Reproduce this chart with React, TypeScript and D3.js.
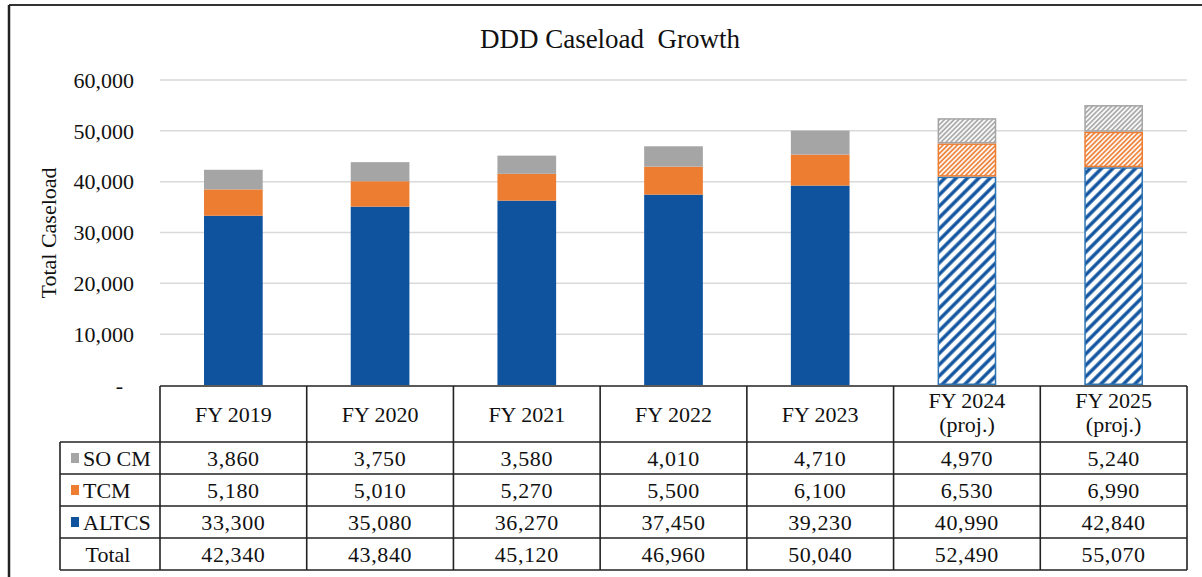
import React from "react";
import * as d3 from "d3";

const categories = ["FY 2019", "FY 2020", "FY 2021", "FY 2022", "FY 2023", "FY 2024", "FY 2025"];
const projected = [false, false, false, false, false, true, true];
const altcs = [33300, 35080, 36270, 37450, 39230, 40990, 42840];
const tcm = [5180, 5010, 5270, 5500, 6100, 6530, 6990];
const socm = [3860, 3750, 3580, 4010, 4710, 4970, 5240];
const totals = [42340, 43840, 45120, 46960, 50040, 52490, 55070];
const yTicks = [0, 10000, 20000, 30000, 40000, 50000, 60000];

const W = 1202, H = 577;
const FONT = "Liberation Serif, Tinos, DejaVu Serif, serif";
const C_BLUE = "#0F539F";
const C_BLUE_EDGE = "#2E75B6";
const C_ORANGE = "#ED7D31";
const C_GREY = "#A5A5A5";
const FS = 22;

export default function App() {
  const x = d3.scaleBand<string>().domain(categories).range([160, 1187]).paddingInner(0).paddingOuter(0);
  const y = d3.scaleLinear().domain([0, 60000]).range([385, 80]);
  const fmt = d3.format(",");
  const bw = x.bandwidth() * 0.4;

  const series = [
    { key: "ALTCS", values: altcs, color: C_BLUE, pat: "pAltcs", edge: C_BLUE_EDGE },
    { key: "TCM", values: tcm, color: C_ORANGE, pat: "pTcm", edge: C_ORANGE },
    { key: "SO CM", values: socm, color: C_GREY, pat: "pSocm", edge: C_GREY },
  ];
  const stack = d3.stack<number>().keys(["0", "1", "2"]).value((i, k) => series[+k].values[i]);
  const stacked = stack(d3.range(categories.length));

  const tableRows = [
    { label: "SO CM", values: socm, color: C_GREY },
    { label: "TCM", values: tcm, color: C_ORANGE },
    { label: "ALTCS", values: altcs, color: C_BLUE },
    { label: "Total", values: totals, color: null },
  ];
  const headerTop = 386, headerBottom = 442, rowH = 32;
  const tableLeft = 60, tableRight = 1187;
  const ts: React.CSSProperties = { fontFamily: FONT };

  return (
    <svg width={W} height={H} style={{ position: "absolute", left: 0, top: 0, background: "#fff", fontFamily: FONT }}>
      <defs>
        <pattern id="pAltcs" width="8" height="8" patternUnits="userSpaceOnUse" patternTransform="rotate(45)">
          <rect width="8" height="8" fill="#fff" />
          <line x1="2" y1="0" x2="2" y2="8" stroke={C_BLUE} strokeWidth="3.4" />
        </pattern>
        <pattern id="pTcm" width="3.4" height="3.4" patternUnits="userSpaceOnUse" patternTransform="rotate(45)">
          <rect width="3.4" height="3.4" fill="#fff" />
          <line x1="1" y1="0" x2="1" y2="3.4" stroke={C_ORANGE} strokeWidth="1.7" />
        </pattern>
        <pattern id="pSocm" width="3.4" height="3.4" patternUnits="userSpaceOnUse" patternTransform="rotate(45)">
          <rect width="3.4" height="3.4" fill="#fff" />
          <line x1="1" y1="0" x2="1" y2="3.4" stroke={C_GREY} strokeWidth="1.7" />
        </pattern>
      </defs>
      <rect width={W} height={H} fill="#fff" />
      <line x1={9} y1={5} x2={W} y2={5} stroke="#333" strokeWidth={2.2} />
      <line x1={9} y1={5} x2={9} y2={H} stroke="#222" strokeWidth={2.5} />

      <text x={610} y={48} textAnchor="middle" fontSize={27} fill="#111" style={{ ...ts, whiteSpace: "pre" }} xmlSpace="preserve">DDD Caseload  Growth</text>

      {yTicks.filter((t) => t > 0).map((t) => (
        <line key={t} x1={160} x2={1187} y1={y(t)} y2={y(t)} stroke="#D9D9D9" strokeWidth={1.5} />
      ))}
      {yTicks.map((t) => (
        <text key={"l" + t} x={t === 0 ? 123 : 134} y={y(t)} dy="0.35em" textAnchor="end" fontSize={FS} fill="#111" style={ts}>
          {t === 0 ? "-" : fmt(t)}
        </text>
      ))}
      <text transform={`translate(48,233) rotate(-90)`} textAnchor="middle" dy="0.35em" fontSize={FS} fill="#111" style={ts}>Total Caseload</text>

      {stacked.map((layer, si) =>
        layer.map((d, i) => {
          const s = series[si];
          const x0 = (x(categories[i]) as number) + (x.bandwidth() - bw) / 2;
          const top = y(d[1]);
          const h = y(d[0]) - y(d[1]);
          if (projected[i]) {
            return (
              <rect key={`${si}-${i}`} x={x0 + 0.75} y={top + 0.75} width={bw - 1.5} height={h - 1.5}
                fill={`url(#${s.pat})`} stroke={s.edge} strokeWidth={1.5} />
            );
          }
          return <rect key={`${si}-${i}`} x={x0} y={top} width={bw} height={h} fill={s.color} />;
        })
      )}

      <g fill="none" stroke="#222" strokeWidth={1.6}>
        <line x1={160} x2={tableRight} y1={headerTop} y2={headerTop} />
        {d3.range(tableRows.length + 1).map((r) => (
          <line key={r} x1={tableLeft} x2={tableRight} y1={headerBottom + r * rowH} y2={headerBottom + r * rowH} />
        ))}
        <line x1={tableLeft} x2={tableLeft} y1={headerBottom} y2={headerBottom + tableRows.length * rowH} />
        {categories.map((c) => (
          <line key={c} x1={x(c) as number} x2={x(c) as number} y1={headerTop} y2={headerBottom + tableRows.length * rowH} />
        ))}
        <line x1={tableRight} x2={tableRight} y1={headerTop} y2={headerBottom + tableRows.length * rowH} />
      </g>
      {categories.map((c, i) => {
        const cx = (x(c) as number) + x.bandwidth() / 2;
        if (projected[i]) {
          return (
            <g key={c}>
              <text x={cx} y={408} textAnchor="middle" fontSize={FS} fill="#111" style={ts}>{c}</text>
              <text x={cx} y={432} textAnchor="middle" fontSize={FS} fill="#111" style={ts}>(proj.)</text>
            </g>
          );
        }
        return <text key={c} x={cx} y={(headerTop + headerBottom) / 2} dy="0.35em" textAnchor="middle" fontSize={FS} fill="#111" style={ts}>{c}</text>;
      })}
      {tableRows.map((row, r) => {
        const cy = headerBottom + r * rowH + rowH / 2;
        return (
          <g key={row.label}>
            {row.color ? (
              <g>
                <rect x={71} y={cy - 5} width={8} height={10} fill={row.color} />
                <text x={83} y={cy} dy="0.35em" fontSize={FS} fill="#111" style={ts}>{row.label}</text>
              </g>
            ) : (
              <text x={108} y={cy} dy="0.35em" textAnchor="middle" fontSize={FS} fill="#111" style={ts}>{row.label}</text>
            )}
            {row.values.map((v, i) => (
              <text key={i} x={(x(categories[i]) as number) + x.bandwidth() / 2} y={cy} dy="0.35em" textAnchor="middle" fontSize={FS} fill="#111" style={{ ...ts, letterSpacing: "0.6px" }}>
                {fmt(v)}
              </text>
            ))}
          </g>
        );
      })}
    </svg>
  );
}
